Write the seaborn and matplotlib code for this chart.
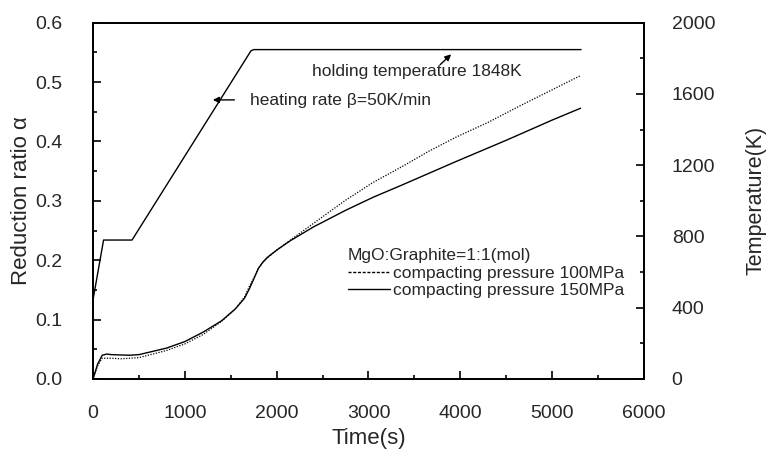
import pandas as pd
import matplotlib.pyplot as plt
import seaborn as sns
from matplotlib.lines import Line2D
from matplotlib.ticker import MultipleLocator

# data
time_100 = [0, 50, 100, 200, 300, 500, 800, 1000, 1200, 1400, 1550, 1650, 1700, 1750, 1800, 1850, 1900,
            2000, 2150, 2400, 2750, 3050, 3370, 3650, 3950, 4300, 4650, 5000, 5310]
alpha_100 = [0.0, 0.022, 0.035, 0.035, 0.034, 0.036, 0.048, 0.059, 0.075, 0.097, 0.118, 0.138, 0.155,
             0.170, 0.186, 0.196, 0.204, 0.217, 0.234, 0.262, 0.301, 0.331, 0.358, 0.383, 0.407, 0.432,
             0.460, 0.487, 0.511]

time_150 = [0, 50, 100, 150, 200, 400, 500, 800, 1000, 1200, 1400, 1550, 1650, 1700, 1750, 1800, 1850,
            1900, 2000, 2150, 2400, 2750, 3050, 3370, 3950, 4500, 5000, 5310]
alpha_150 = [0.0, 0.025, 0.040, 0.042, 0.041, 0.040, 0.041, 0.052, 0.063, 0.079, 0.098, 0.118, 0.136,
             0.151, 0.168, 0.186, 0.197, 0.205, 0.217, 0.233, 0.256, 0.284, 0.306, 0.327, 0.366, 0.402,
             0.436, 0.456]

time_T = [0, 115, 425, 1720, 1750, 5315]
temp_T = [444, 780, 780, 1842, 1849, 1849]

sns.set_style("ticks")
plt.rcParams['font.family'] = ['Liberation Sans', 'DejaVu Sans']

fig = plt.figure(figsize=(7.68, 4.54), dpi=100)
ax = fig.add_axes([0.1211, 0.1652, 0.8385 - 0.1211, 0.95 - 0.1652])

df100 = pd.DataFrame({"t": time_100, "a": alpha_100})
df150 = pd.DataFrame({"t": time_150, "a": alpha_150})
sns.lineplot(data=df100, x="t", y="a", ax=ax, color="black", lw=0.9, linestyle=(0, (1, 1.2)))
sns.lineplot(data=df150, x="t", y="a", ax=ax, color="black", lw=1.0)

ax.set_xlim(0, 6000)
ax.set_ylim(0, 0.6)
ax.xaxis.set_major_locator(MultipleLocator(1000))
ax.xaxis.set_minor_locator(MultipleLocator(500))
ax.yaxis.set_major_locator(MultipleLocator(0.1))
ax.yaxis.set_minor_locator(MultipleLocator(0.05))
ax.yaxis.set_major_formatter(plt.FormatStrFormatter("%.1f"))
ax.tick_params(which="both", direction="in", labelsize=14, width=1.2, color="black")
ax.tick_params(which="major", length=6)
ax.tick_params(which="minor", length=3)
ax.tick_params(axis="y", pad=22)
ax.tick_params(axis="x", pad=19)
ax.set_xlabel("Time(s)", fontsize=16)
ax.set_ylabel("Reduction ratio α", fontsize=16)
ax.xaxis.set_label_coords(0.5, -0.137)
ax.yaxis.set_label_coords(-0.11, 0.5)

ax2 = ax.twinx()
dfT = pd.DataFrame({"t": time_T, "T": temp_T})
sns.lineplot(data=dfT, x="t", y="T", ax=ax2, color="black", lw=1.0)
ax2.set_ylim(0, 2000)
ax2.yaxis.set_major_locator(MultipleLocator(400))
ax2.yaxis.set_minor_locator(MultipleLocator(200))
ax2.tick_params(which="both", direction="in", labelsize=14, width=1.2, color="black", pad=20)
ax2.tick_params(which="major", length=6)
ax2.tick_params(which="minor", length=3)
ax2.set_ylabel("Temperature(K)", fontsize=15.5)
ax2.yaxis.set_label_coords(1.184, 0.5)
ax2.set_xlabel("")

for a in (ax, ax2):
    for s in a.spines.values():
        s.set_linewidth(1.3)
        s.set_color("black")

# annotations
ax.annotate("", xy=(1275, 0.47), xytext=(1570, 0.47),
            arrowprops=dict(arrowstyle="-|>", color="black", lw=1.0, mutation_scale=9))
ax.text(1710, 0.469, "heating rate β=50K/min", fontsize=12.5, va="center")
ax.text(2386, 0.518, "holding temperature 1848K", fontsize=12.5, va="center")
ax.annotate("", xy=(3922, 0.55), xytext=(3758, 0.526),
            arrowprops=dict(arrowstyle="-|>", color="black", lw=1.0, mutation_scale=9))

handles = [Line2D([], [], color="black", lw=1.0, linestyle="--", dashes=(2.2, 1.2)),
           Line2D([], [], color="black", lw=1.0)]
leg = ax.legend(handles, ["compacting pressure 100MPa", "compacting pressure 150MPa"],
                title="MgO:Graphite=1:1(mol)", loc="upper left", bbox_to_anchor=(0.463, 0.368),
                frameon=False, fontsize=12.5, title_fontsize=12.5, handlelength=2.4,
                handletextpad=0.2, borderaxespad=0, labelspacing=0.15, borderpad=0)
leg._legend_box.align = "left"

fig.savefig("out.png", dpi=100)
